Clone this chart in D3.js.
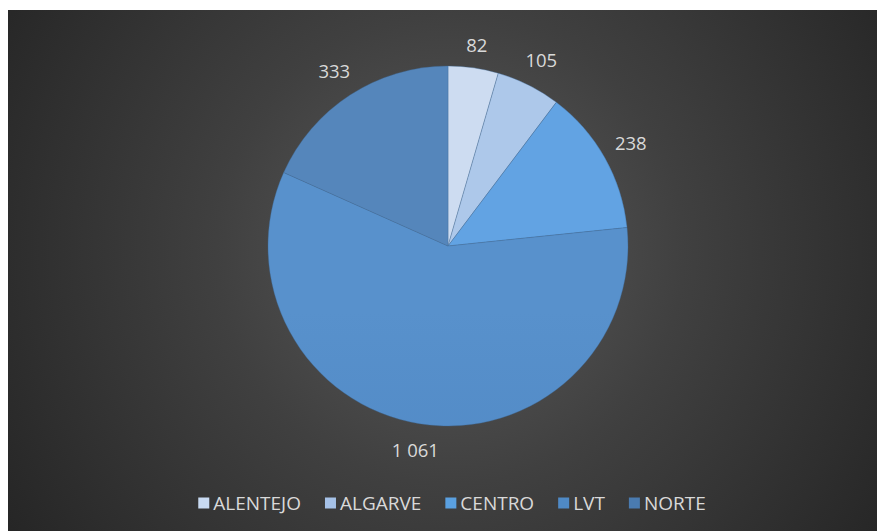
<!DOCTYPE html>
<html><head><meta charset="utf-8">
<script src="https://cdn.jsdelivr.net/npm/d3@7"></script>
<style>html,body{margin:0;padding:0;background:#fff;}svg{display:block;}</style>
</head><body>
<svg id="c" width="877" height="531"></svg>
<script>
const categories = ["ALENTEJO", "ALGARVE", "CENTRO", "LVT", "NORTE"];
const values = [82, 105, 238, 1061, 333];
const valueLabels = ["82", "105", "238", "1 061", "333"];
const colorsTop = ["#cddcf1", "#adc8ea", "#62a3e3", "#5891cc", "#5586bb"];
const colorsBottom = ["#bfd2ec", "#9ebde5", "#5598da", "#4a82bf", "#416fa2"];
const legendColors = ["#c8daf2", "#a6c2e8", "#5aa0e0", "#4f8ac6", "#4a7bb0"];

const svg = d3.select("#c");
const W = 877, H = 531;
const X0 = 8, Y0 = 10;
const defs = svg.append("defs");
const bg = defs.append("radialGradient").attr("id","bg").attr("gradientUnits","userSpaceOnUse")
  .attr("cx",450).attr("cy",250).attr("r",520);
bg.append("stop").attr("offset","0").attr("stop-color","#5b5b5b");
bg.append("stop").attr("offset","0.45").attr("stop-color","#404040");
bg.append("stop").attr("offset","1").attr("stop-color","#262626");
svg.append("rect").attr("x",X0).attr("y",Y0).attr("width",W-X0).attr("height",H-Y0).attr("fill","url(#bg)");

const cx = 448, cy = 246, R = 180;
categories.forEach((c,i)=>{
  const g = defs.append("linearGradient").attr("id","g"+i).attr("gradientUnits","userSpaceOnUse")
    .attr("x1",0).attr("y1",cy-R).attr("x2",0).attr("y2",cy+R);
  g.append("stop").attr("offset","0").attr("stop-color",colorsTop[i]);
  g.append("stop").attr("offset","1").attr("stop-color",colorsBottom[i]);
});

const pie = d3.pie().sort(null).value(d=>d)(values);
const arc = d3.arc().innerRadius(0).outerRadius(R);
const gp = svg.append("g").attr("transform",`translate(${cx},${cy})`);
gp.selectAll("path").data(pie).join("path")
  .attr("d",arc).attr("fill",(d,i)=>`url(#g${i})`)
  .attr("stroke","#3d6a9a").attr("stroke-width",0.6).attr("stroke-opacity",0.6);

const fontFam = "'Open Sans','Liberation Sans',sans-serif";
const lg = svg.append("g");
pie.forEach((d,i)=>{
  const a = (d.startAngle+d.endAngle)/2;
  const t = lg.append("text").text(valueLabels[i])
    .attr("font-family",fontFam).attr("font-size",18.5).attr("fill","#d9d9d9")
    .attr("text-anchor","middle").attr("dominant-baseline","central");
  const bb = t.node().getBBox();
  const r = R + 10 + Math.abs(Math.sin(a))*bb.width/2 + Math.abs(Math.cos(a))*bb.height/2;
  t.attr("x",cx + Math.sin(a)*r).attr("y",cy - Math.cos(a)*r);
});

// legend
const leg = svg.append("g");
let x = 0;
categories.forEach((c,i)=>{
  const gi = leg.append("g");
  gi.append("rect").attr("x",x).attr("y",-5.5).attr("width",11).attr("height",11).attr("fill",legendColors[i]);
  const t = gi.append("text").attr("x",x+15).attr("y",0).attr("dominant-baseline","central")
    .attr("font-family",fontFam).attr("font-size",19).attr("fill","#d9d9d9").text(c);
  x += 15 + t.node().getComputedTextLength() + 24;
});
const totalW = x - 24;
leg.attr("transform",`translate(${452 - totalW/2},503)`);
</script>
</body></html>
